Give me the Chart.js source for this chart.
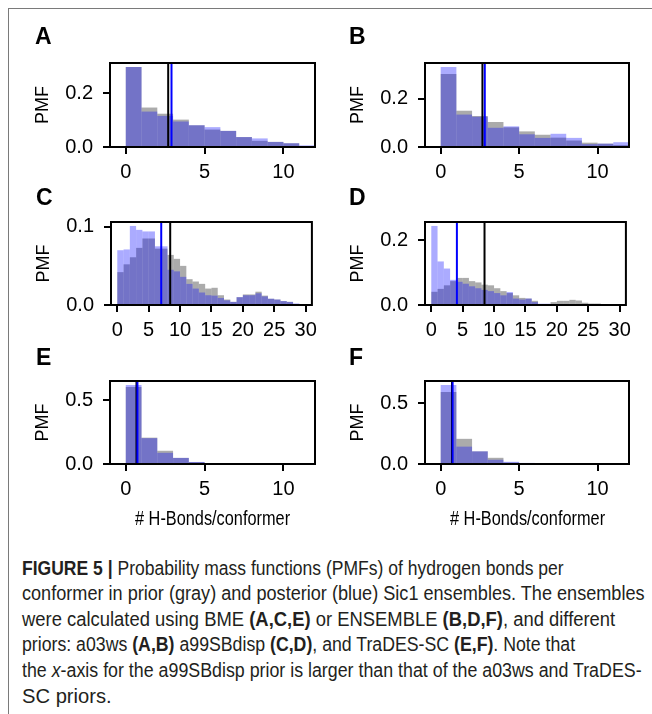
<!DOCTYPE html>
<html><head><meta charset="utf-8">
<script src="https://cdn.jsdelivr.net/npm/chart.js@4.4.1/dist/chart.umd.min.js"></script>
<style>
html,body{margin:0;padding:0;background:#fff;}
body{width:652px;height:714px;position:relative;overflow:hidden;font-family:"Liberation Sans",Arial,sans-serif;}
#box{position:absolute;left:8px;top:8px;width:700px;height:760px;border-left:1.5px solid #7a7a7a;border-top:1.5px solid #7a7a7a;}
canvas{position:absolute;}
.lt{position:absolute;font-family:"Liberation Sans",Arial,sans-serif;font-weight:bold;font-size:23px;line-height:23px;color:#000;}
.xl{position:absolute;font-family:"Liberation Sans Narrow","Liberation Sans",sans-serif;font-size:20px;line-height:20px;white-space:nowrap;transform-origin:0 0;color:#000;}
.cap{position:absolute;left:22px;font-family:"Liberation Sans Narrow","Liberation Sans",sans-serif;font-size:19.5px;line-height:19.5px;white-space:nowrap;transform-origin:0 0;color:#231f20;}
</style></head>
<body>
<div id="box"></div>
<canvas id="cA"></canvas><canvas id="cB"></canvas><canvas id="cC"></canvas>
<canvas id="cD"></canvas><canvas id="cE"></canvas><canvas id="cF"></canvas>
<div class="lt" style="left:35px;top:25px">A</div>
<div class="lt" style="left:349px;top:25px">B</div>
<div class="lt" style="left:36px;top:185.5px">C</div>
<div class="lt" style="left:349px;top:185.5px">D</div>
<div class="lt" style="left:36px;top:345.5px">E</div>
<div class="lt" style="left:349px;top:345.5px">F</div>
<div class="xl" id="xl1" data-cx="212.5" data-w="155" style="top:508px"># H-Bonds/conformer</div>
<div class="xl" id="xl2" data-cx="527" data-w="155" style="top:508px"># H-Bonds/conformer</div>
<div class="cap" data-w="542" style="top:558.5px"><b>FIGURE 5 |</b> Probability mass functions (PMFs) of hydrogen bonds per</div>
<div class="cap" data-w="623" style="top:584.1px">conformer in prior (gray) and posterior (blue) Sic1 ensembles. The ensembles</div>
<div class="cap" data-w="593" style="top:609.7px">were calculated using BME <b>(A,C,E)</b> or ENSEMBLE <b>(B,D,F)</b>, and different</div>
<div class="cap" data-w="553" style="top:635.3px">priors: a03ws <b>(A,B)</b> a99SBdisp <b>(C,D)</b>, and TraDES-SC <b>(E,F)</b>. Note that</div>
<div class="cap" data-w="620" style="top:660.9px">the <i>x</i>-axis for the a99SBdisp prior is larger than that of the a03ws and TraDES-</div>
<div class="cap" data-w="90" style="top:686.5px">SC priors.</div>
<script>
// ---------------- data ----------------
const binsShort = [0,1,2,3,4,5,6,7,8,9,10,11];
const binsLong = [0,1,2,3,4,5,6,7,8,9,10,11,12,13,14,15,16,17,18,19,20,21,22,23,24,25,26,27,28,29];
const xTicksShort = [0,5,10];
const xTicksLong = [0,5,10,15,20,25,30];
const xTickLabelsShort = ['0','5','10'];
const xTickLabelsLong = ['0','5','10','15','20','25','30'];

const priorA = [0.298,0.147,0.124,0.102,0.081,0.065,0.060,0.037,0.023,0.019,0.014,0.003];
const postA  = [0.298,0.132,0.116,0.095,0.081,0.074,0.060,0.037,0.032,0.019,0.014,0.006];
const priorB = [0.304,0.151,0.129,0.104,0.082,0.065,0.051,0.039,0.027,0.018,0.014,0.008];
const postB  = [0.333,0.135,0.126,0.080,0.086,0.053,0.038,0.055,0.038,0.012,0.014,0.020];
const priorC = [0.042,0.052,0.061,0.073,0.085,0.085,0.072,0.072,0.064,0.059,0.050,0.033,0.030,0.027,0.021,
                0.022,0.0125,0.007,0.004,0.010,0.0135,0.0135,0.017,0.012,0.008,0.007,0.005,0.004,0.001,0.0005];
const postC  = [0.070,0.071,0.101,0.096,0.094,0.094,0.075,0.075,0.045,0.043,0.036,0.027,0.021,0.016,0.0125,
                0.012,0.009,0.006,0.004,0.010,0.0125,0.0125,0.015,0.011,0.008,0.007,0.005,0.004,0.002,0.0005];
const priorD = [0.041,0.050,0.061,0.074,0.084,0.084,0.074,0.070,0.063,0.061,0.052,0.043,0.037,0.030,0.022,
                0.020,0.013,0.003,0.003,0.009,0.013,0.013,0.016,0.014,0.007,0.0045,0.0045,0.003,0.002,0.001];
const postD  = [0.245,0.135,0.113,0.078,0.072,0.066,0.058,0.052,0.047,0.043,0.037,0.030,0.040,0.020,0.017,
                0.020,0.009,0.004,0.004,0.001,0.001,0.001,0.001,0.0005,0.0005,0,0,0,0,0];
const priorE = [0.605,0.207,0.104,0.048,0.015,0.004,0.001,0,0,0,0,0];
const postE  = [0.621,0.203,0.088,0.048,0.016,0.004,0.001,0,0,0,0,0];
const priorF = [0.592,0.207,0.104,0.051,0.012,0.005,0.001,0,0,0,0,0];
const postF  = [0.650,0.143,0.104,0.035,0.018,0.009,0.002,0,0,0,0,0];

// mean H-bonds per conformer (vertical lines), panels A-F
const priorMeans = [2.69, 2.66, 8.43, 8.48, 0.68, 0.72];
const postMeans  = [2.90, 2.81, 7.00, 4.08, 0.74, 0.76];

const yTicksA = [0,0.2], yTickLabelsA = ['0.0','0.2'];
const yTicksB = [0,0.2], yTickLabelsB = ['0.0','0.2'];
const yTicksC = [0,0.1], yTickLabelsC = ['0.0','0.1'];
const yTicksD = [0,0.2], yTickLabelsD = ['0.0','0.2'];
const yTicksE = [0,0.5], yTickLabelsE = ['0.0','0.5'];
const yTicksF = [0,0.5], yTickLabelsF = ['0.0','0.5'];

// ---------------- layout ----------------
const panels = [
  {id:'cA', bins:binsShort, prior:priorA, post:postA, xt:xTicksShort, xl:xTickLabelsShort, yt:yTicksA, yl:yTickLabelsA, xmin:-1, xmax:12, g:{L:110,T:47,R:315,B:147}},
  {id:'cB', bins:binsShort, prior:priorB, post:postB, xt:xTicksShort, xl:xTickLabelsShort, yt:yTicksB, yl:yTickLabelsB, xmin:-1, xmax:12, g:{L:425,T:47,R:629,B:147}},
  {id:'cC', bins:binsLong, prior:priorC, post:postC, xt:xTicksLong, xl:xTickLabelsLong, yt:yTicksC, yl:yTickLabelsC, xmin:-1, xmax:31, g:{L:111,T:206,R:315,B:305}},
  {id:'cD', bins:binsLong, prior:priorD, post:postD, xt:xTicksLong, xl:xTickLabelsLong, yt:yTicksD, yl:yTickLabelsD, xmin:-1, xmax:31, g:{L:425,T:206,R:629,B:305}},
  {id:'cE', bins:binsShort, prior:priorE, post:postE, xt:xTicksShort, xl:xTickLabelsShort, yt:yTicksE, yl:yTickLabelsE, xmin:-1, xmax:12, g:{L:110,T:365,R:315,B:464}},
  {id:'cF', bins:binsShort, prior:priorF, post:postF, xt:xTicksShort, xl:xTickLabelsShort, yt:yTicksF, yl:yTickLabelsF, xmin:-1, xmax:12, g:{L:425,T:365,R:629,B:464}},
];

const YW = 90, XH = 45, PT = 6, PR = 8;
const frame = {
  id:'frame',
  afterDraw(chart){
    const {ctx, chartArea:a} = chart;
    ctx.save();
    ctx.strokeStyle = '#000'; ctx.lineWidth = 2;
    ctx.strokeRect(a.left, a.top, a.right - a.left, a.bottom - a.top);
    ctx.restore();
  }
};

const tickFont = {family:'"Liberation Sans", Arial, sans-serif', size:20};

panels.forEach((p, i) => {
  const cv = document.getElementById(p.id);
  const w = (p.g.R - p.g.L) + YW + PR;
  const h = (p.g.B - p.g.T) + PT + XH;
  cv.width = w; cv.height = h;
  cv.style.width = w + 'px'; cv.style.height = h + 'px';
  cv.style.left = (p.g.L - YW) + 'px';
  cv.style.top = (p.g.T - PT) + 'px';
  const ymax = 1.05 * Math.max(...p.prior, ...p.post);
  new Chart(cv, {
    type: 'bar',
    data: {
      datasets: [
        {type:'line', data:[{x:postMeans[i], y:0},{x:postMeans[i], y:ymax}], borderColor:'#0000ff', borderWidth:2, pointRadius:0, order:0},
        {type:'line', data:[{x:priorMeans[i], y:0},{x:priorMeans[i], y:ymax}], borderColor:'#000000', borderWidth:2, pointRadius:0, order:1},
        {label:'posterior', data:p.bins.map((b,k)=>({x:b+0.5, y:p.post[k]})), backgroundColor:'rgba(0,0,255,0.33)', borderWidth:0, inflateAmount:0, grouped:false, barPercentage:1, categoryPercentage:1, order:2},
        {label:'prior', data:p.bins.map((b,k)=>({x:b+0.5, y:p.prior[k]})), backgroundColor:'rgba(0,0,0,0.33)', borderWidth:0, inflateAmount:0, grouped:false, barPercentage:1, categoryPercentage:1, order:3},
      ]
    },
    options: {
      responsive:false, animation:false, maintainAspectRatio:false,
      layout:{padding:{top:PT, right:PR, left:0, bottom:0}},
      plugins:{legend:{display:false}, tooltip:{enabled:false}},
      scales:{
        x:{
          type:'linear', min:p.xmin, max:p.xmax, offset:false,
          grid:{offset:false, drawOnChartArea:false, drawTicks:true, tickLength:7, tickWidth:2, tickColor:'#000', color:'#000', lineWidth:2},
          border:{display:false},
          ticks:{font:tickFont, color:'#000', padding:6, maxRotation:0, autoSkip:false, callback:(v,k)=>p.xl[k]},
          afterBuildTicks: s => { s.ticks = p.xt.map(v=>({value:v})); },
          afterFit: s => { s.height = XH; }
        },
        y:{
          type:'linear', min:0, max:ymax,
          grid:{drawOnChartArea:false, drawTicks:true, tickLength:7, tickWidth:2, tickColor:'#000', color:'#000', lineWidth:2},
          border:{display:false},
          ticks:{font:tickFont, color:'#000', padding:10, autoSkip:false, callback:(v,k)=>p.yl[k]},
          title:{display:true, text:'PMF', color:'#000', font:{family:'"Liberation Sans", Arial, sans-serif', size:18}, padding:{top:12, bottom:0}},
          afterBuildTicks: s => { s.ticks = p.yt.map(v=>({value:v})); },
          afterFit: s => { s.width = YW; }
        }
      }
    },
    plugins:[frame]
  });
});

// fit text lines to their measured widths in the reference
document.querySelectorAll('.xl').forEach(el => {
  const nat = el.scrollWidth;
  const sc = parseFloat(el.dataset.w) / nat;
  el.style.transform = 'scaleX(' + sc + ')';
  el.style.left = (parseFloat(el.dataset.cx) - parseFloat(el.dataset.w)/2) + 'px';
});
document.querySelectorAll('.cap').forEach(el => {
  const nat = el.scrollWidth;
  el.style.transform = 'scaleX(' + (parseFloat(el.dataset.w) / nat) + ')';
});
</script>
</body></html>
